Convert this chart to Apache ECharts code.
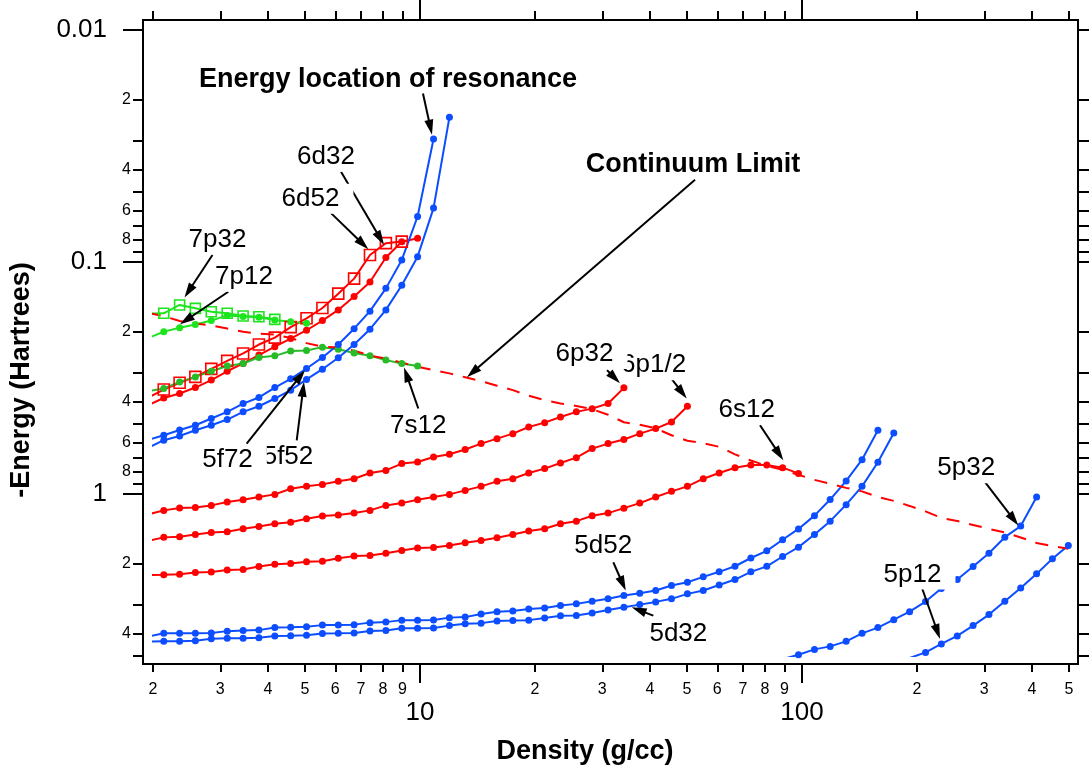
<!DOCTYPE html>
<html>
<head>
<meta charset="utf-8">
<script src="https://cdn.jsdelivr.net/npm/echarts@6.0.0/dist/echarts.min.js"></script>
<style>
  html, body { margin: 0; background: #fff; }
  #chart { width: 1089px; height: 771px; }
</style>
</head>
<body>
<div id="chart"></div>
<script>
// density grid (g/cc); rho[0] sits just left of the plot edge
const rho = [1.939, 2.134, 2.348, 2.582, 2.842, 3.128, 3.443, 3.787, 4.168, 4.586,
  5.046, 5.553, 6.110, 6.722, 7.397, 8.141, 8.960, 9.856, 10.85, 11.94,
  13.13, 14.45, 15.91, 17.50, 19.26, 21.20, 23.32, 25.66, 28.23, 31.07,
  34.18, 37.61, 41.40, 45.54, 50.12, 55.15, 60.70, 66.77, 73.48, 80.88,
  88.97, 97.90, 107.8, 118.5, 130.5, 143.6, 158.0, 173.9, 191.3, 210.6,
  231.6, 254.9, 280.5, 308.6, 339.6, 373.7, 411.3, 452.4, 497.9];

// -energy (Hartrees) per level, each list starts at rho[0] unless noted
const e5f72 = [0.586, 0.559, 0.530, 0.506, 0.473, 0.443, 0.408, 0.384, 0.348, 0.319,
  0.288, 0.258, 0.227, 0.194, 0.163, 0.130, 0.098, 0.0637, 0.0295];
const e5f52 = [0.633, 0.587, 0.563, 0.532, 0.506, 0.478, 0.443, 0.419, 0.388, 0.357,
  0.321, 0.290, 0.259, 0.227, 0.195, 0.161, 0.126, 0.0949, 0.0586, 0.0238];
const e6d52 = [0.385, 0.355, 0.332, 0.313, 0.289, 0.267, 0.248, 0.227, 0.212, 0.191,
  0.175, 0.158, 0.137, 0.118, 0.0933, 0.0830, 0.0817];
const e6d32 = [0.415, 0.386, 0.369, 0.348, 0.323, 0.296, 0.274, 0.252, 0.232, 0.214,
  0.197, 0.179, 0.161, 0.141, 0.122, 0.0957, 0.0819, 0.0791];
const e7p32 = [0.1669, 0.1665, 0.1533, 0.1585, 0.1639, 0.1665, 0.1711, 0.1723, 0.1768];
const e7p12 = [0.213, 0.200, 0.192, 0.186, 0.179, 0.170, 0.172, 0.173, 0.178, 0.181, 0.184];
const e7s12 = [0.361, 0.351, 0.329, 0.313, 0.296, 0.281, 0.274, 0.258, 0.254, 0.242,
  0.241, 0.233, 0.238, 0.247, 0.254, 0.265, 0.274, 0.281];
const e6p32 = [1.226, 1.178, 1.150, 1.144, 1.121, 1.085, 1.059, 1.032, 1.005, 0.950,
  0.928, 0.910, 0.883, 0.860, 0.813, 0.792, 0.740, 0.729, 0.693, 0.675,
  0.644, 0.607, 0.578, 0.550, 0.515, 0.493, 0.466, 0.443, 0.429, 0.408, 0.349];
const e6p12 = [1.596, 1.540, 1.530, 1.496, 1.468, 1.455, 1.413, 1.381, 1.345, 1.324,
  1.280, 1.245, 1.232, 1.210, 1.178, 1.121, 1.096, 1.059, 1.032, 1.005,
  0.966, 0.928, 0.883, 0.860, 0.813, 0.778, 0.736, 0.698, 0.638, 0.607,
  0.583, 0.550, 0.523, 0.490, 0.419];
const e6s12 = [2.238, 2.232, 2.220, 2.180, 2.170, 2.130, 2.120, 2.057, 2.010, 1.995,
  1.960, 1.950, 1.894, 1.855, 1.843, 1.802, 1.754, 1.712, 1.704, 1.669,
  1.625, 1.588, 1.546, 1.496, 1.447, 1.413, 1.345, 1.311, 1.242, 1.210,
  1.152, 1.096, 1.032, 0.975, 0.928, 0.860, 0.813, 0.771, 0.751, 0.751,
  0.771, 0.816];
const e5d52 = [4.126, 3.993, 3.993, 3.985, 3.977, 3.906, 3.886, 3.867, 3.772, 3.760,
  3.742, 3.680, 3.673, 3.662, 3.590, 3.572, 3.502, 3.502, 3.495, 3.416,
  3.399, 3.293, 3.219, 3.202, 3.133, 3.108, 3.031, 2.980, 2.904, 2.835,
  2.744, 2.682, 2.611, 2.484, 2.404, 2.279, 2.168, 2.051, 1.890, 1.760,
  1.577, 1.416, 1.241, 1.058, 0.879, 0.712, 0.532];
const e5d32 = [4.337, 4.324, 4.315, 4.294, 4.209, 4.197, 4.188, 4.168, 4.097, 4.085,
  4.065, 4.001, 3.993, 3.977, 3.898, 3.879, 3.799, 3.792, 3.784, 3.698,
  3.626, 3.608, 3.530, 3.519, 3.502, 3.426, 3.355, 3.342, 3.260, 3.164,
  3.083, 3.002, 2.922, 2.835, 2.698, 2.611, 2.472, 2.341, 2.168, 2.053,
  1.862, 1.697, 1.496, 1.311, 1.113, 0.928, 0.731, 0.546];
// 5p32 starts at rho[40], 5p12 at rho[48]
const e5p32 = [5.16, 4.935, 4.682, 4.545, 4.324, 3.993, 3.772, 3.485, 3.219, 2.913,
  2.560, 2.341, 2.057, 1.802, 1.537, 1.377, 1.032];
const e5p12 = [5.10, 4.825, 4.437, 4.097, 3.698, 3.315, 2.904, 2.543, 2.212, 1.905, 1.669];
const eLimit = [0.1661, 0.1711, 0.1798, 0.1843, 0.1880, 0.1938, 0.2000, 0.2036, 0.2056, 0.2129,
  0.2239, 0.2322, 0.2341, 0.2412, 0.2535, 0.2611, 0.2717, 0.2828, 0.2928, 0.3023,
  0.3140, 0.3267, 0.3416, 0.3571, 0.3773, 0.3945, 0.4073, 0.4180, 0.4315, 0.4557,
  0.4911, 0.5035, 0.5215, 0.5589, 0.5903, 0.6051, 0.6266, 0.6752, 0.7182, 0.7568,
  0.7876, 0.8276, 0.8699, 0.9053, 0.9421, 0.9754, 1.032, 1.072, 1.127, 1.190,
  1.270, 1.308, 1.361, 1.416, 1.466, 1.541, 1.628, 1.677, 1.725];

// tick values
const xMinor = [2, 3, 4, 5, 6, 7, 8, 9, 20, 30, 40, 50, 60, 70, 80, 90, 200, 300, 400, 500];
const xMajor = [10, 100];
const yMinor = [0.02, 0.03, 0.04, 0.05, 0.06, 0.07, 0.08, 0.09,
  0.2, 0.3, 0.4, 0.5, 0.6, 0.7, 0.8, 0.9, 2, 3, 4, 5];
const yMinorLabels = [0.02, 0.04, 0.06, 0.08, 0.2, 0.4, 0.6, 0.8, 2, 4];
const yMajor = [0.01, 0.1, 1];

// annotations: text, label centre, arrow tail, arrow tip (data coords)
const notes = [
  ['6d32', [5.675, 0.0352], [6.212, 0.04086], [8.052, 0.08446]],
  ['6d52', [5.168, 0.05343], [5.848, 0.06161], [7.323, 0.08813]],
  ['7p32', [2.951, 0.07993], [2.862, 0.09329], [2.418, 0.1423]],
  ['7p12', [3.462, 0.1158], [3.149, 0.1344], [2.353, 0.1858]],
  ['6p1/2', [40.87, 0.2786], [45.67, 0.3211], [49.92, 0.388]],
  ['6p32', [26.96, 0.2496], [30.87, 0.2928], [33.39, 0.3332]],
  ['6s12', [71.65, 0.4345], [77.65, 0.5058], [89.35, 0.7165]],
  ['7s12', [9.898, 0.5109], [9.898, 0.4285], [9.081, 0.285]],
  ['5f52', [4.512, 0.6956], [4.756, 0.5872], [4.969, 0.3289]],
  ['5f72', [3.134, 0.7165], [3.518, 0.6069], [5.0, 0.2928]],
  ['5d52', [30.18, 1.682], [32.06, 1.971], [34.56, 2.611]],
  ['5d32', [47.46, 4.005], [40.81, 3.349], [35.83, 3.083]],
  ['5p32', [269.2, 0.7758], [301.4, 0.8893], [368.4, 1.368]],
  ['5p12', [194.7, 2.227], [205.8, 2.527], [229.8, 4.222]]
];
const heads = [
  ['Energy location of resonance', [2.639, 0.01636], [10.18, 0.0188], [10.75, 0.02828], 'left'],
  ['Continuum Limit', [51.84, 0.03811], [52.48, 0.04422], [13.27, 0.314], 'center']
];

const blue = '#0c4dff', red = '#ff0000', lime = '#1de51d', green = '#27bb27';
const fam = '"Liberation Sans", Arial, sans-serif';

function pts(start, e) {
  return e.map((v, i) => [rho[start + i], v]);
}
function lead(v) {
  const p = Math.pow(10, Math.floor(Math.log10(v) + 1e-9));
  return String(Math.round(v / p));
}

function curve(e, start, color, square) {
  return {
    type: 'line', xAxisIndex: 0, yAxisIndex: 0, data: pts(start, e),
    symbol: square ? 'rect' : 'circle', symbolSize: square || 7,
    lineStyle: { color: color, width: 2 },
    itemStyle: square ? { color: 'rgba(0,0,0,0)', borderColor: color, borderWidth: 1.6 } : { color: color },
    emphasis: { disabled: true }, silent: true, clip: true
  };
}

function axis(kind, pos, offset, ticks, len, labels, size, margin, fmt) {
  const a = {
    type: 'log', logBase: 10, gridIndex: 0, position: pos, offset: offset,
    axisLine: { show: false, onZero: false },
    splitLine: { show: false },
    minorTick: { show: false },
    axisTick: { show: true, customValues: ticks, length: len, lineStyle: { color: '#000', width: 2 } },
    axisLabel: { show: false }
  };
  if (kind === 'x') { a.min = 2; a.max = 500; } else { a.min = 0.01; a.max = 5; a.inverse = true; }
  if (labels) {
    a.axisLabel = { show: true, customValues: labels, formatter: fmt, fontSize: size,
      margin: margin, color: '#000', fontFamily: fam };
  }
  return a;
}

const chart = echarts.init(document.getElementById('chart'));

chart.setOption({
  animation: false,
  backgroundColor: '#fff',
  grid: [
    { left: 153, top: 30, width: 916, height: 626, outerBoundsMode: 'none' },
    { left: 143, top: 20, width: 935, height: 644, show: true, borderColor: '#000',
      borderWidth: 2, backgroundColor: 'rgba(0,0,0,0)', outerBoundsMode: 'none' }
  ],
  xAxis: [
    axis('x', 'bottom', 8, xMinor, 8, xMinor, 16, 18, lead),
    axis('x', 'bottom', 8, xMajor, 19, xMajor, 26, 36, v => String(v)),
    axis('x', 'top', 10, xMinor, 9),
    axis('x', 'top', 10, xMajor, 20)
  ],
  yAxis: [
    axis('y', 'left', 10, yMinor, 10, yMinorLabels, 16, 12, lead),
    axis('y', 'left', 10, yMajor, 20, yMajor, 26, 36, v => String(v)),
    axis('y', 'right', 9, yMinor, 11),
    axis('y', 'right', 9, yMajor, 14)
  ],
  series: [
    curve(e6s12, 0, red),
    curve(e6p12, 0, red),
    curve(e6p32, 0, red),
    curve(e6d32, 0, red),
    curve(e6d52, 0, red, 11),
    curve(e7s12, 0, green),
    curve(e7p12, 0, lime),
    curve(e7p32, 0, lime, 10),
    curve(e5f52, 0, blue),
    curve(e5f72, 0, blue),
    curve(e5d32, 0, blue),
    curve(e5d52, 0, blue),
    curve(e5p12, 48, blue),
    curve(e5p32, 40, blue),
    {
      type: 'line', xAxisIndex: 0, yAxisIndex: 0, data: pts(0, eLimit),
      showSymbol: false, silent: true, clip: true,
      lineStyle: { color: red, width: 2, type: [13, 10] },
      emphasis: { disabled: true }
    }
  ]
});

// annotations placed through the axes' own scales
const P = d => chart.convertToPixel({ xAxisIndex: 0, yAxisIndex: 0 }, d);

function arrow(tail, tip) {
  const a = P(tail), b = P(tip);
  const dx = b[0] - a[0], dy = b[1] - a[1], len = Math.hypot(dx, dy);
  const ux = dx / len, uy = dy / len, L = 15, W = 4.5;
  const bx = b[0] - ux * L, by = b[1] - uy * L;
  return [
    { type: 'line', z: 10, silent: true, shape: { x1: a[0], y1: a[1], x2: bx + ux, y2: by + uy },
      style: { stroke: '#000', lineWidth: 2 } },
    { type: 'polygon', z: 10, silent: true,
      shape: { points: [b, [bx - uy * W, by + ux * W], [bx + uy * W, by - ux * W]] },
      style: { fill: '#000' } }
  ];
}

const g = [];
notes.forEach(n => {
  g.push(...arrow(n[2], n[3]));
  const p = P(n[1]);
  g.push({ type: 'text', z: 12, silent: true, x: p[0] + 6, y: p[1],
    style: { text: n[0], fill: '#000', font: '26px ' + fam, align: 'center', verticalAlign: 'middle',
      backgroundColor: '#fff', padding: [2, 14, 2, 2] } });
});
heads.forEach(n => {
  g.push(...arrow(n[2], n[3]));
  const p = P(n[1]);
  g.push({ type: 'text', z: 12, silent: true, x: p[0], y: p[1],
    style: { text: n[0], fill: '#000', font: 'bold 27px ' + fam, align: n[4], verticalAlign: 'middle' } });
});
g.push({ type: 'text', z: 12, silent: true, x: 22, y: 380, rotation: Math.PI / 2,
  style: { text: '-Energy (Hartrees)', fill: '#000', font: 'bold 27px ' + fam, align: 'center', verticalAlign: 'middle' } });
g.push({ type: 'text', z: 12, silent: true, x: 585, y: 752,
  style: { text: 'Density (g/cc)', fill: '#000', font: 'bold 27px ' + fam, align: 'center', verticalAlign: 'middle' } });

chart.setOption({ graphic: g });
</script>
</body>
</html>
